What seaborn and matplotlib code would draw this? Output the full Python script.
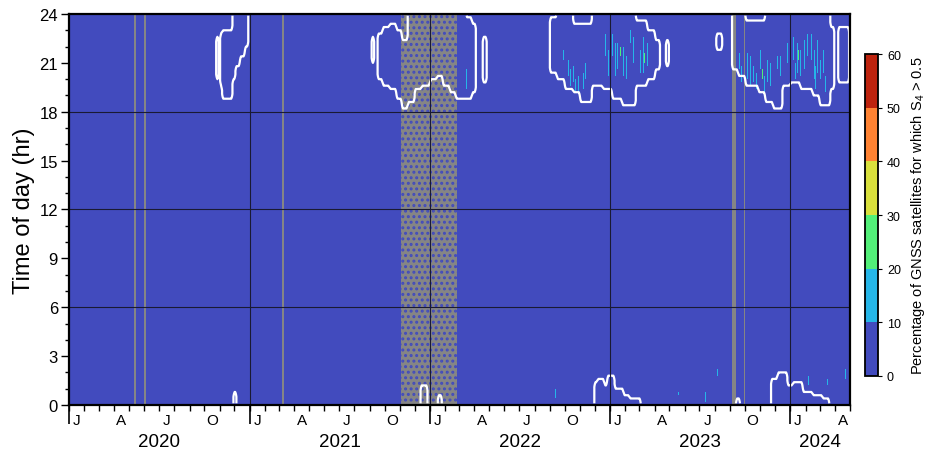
import numpy as np
import pandas as pd
import matplotlib
matplotlib.use("Agg")
import matplotlib.pyplot as plt
import seaborn as sns
from matplotlib.colors import ListedColormap
from matplotlib.patches import Rectangle

plt.rcParams['font.family'] = ['Liberation Sans', 'DejaVu Sans']
plt.rcParams['mathtext.default'] = 'regular'
plt.rcParams['hatch.linewidth'] = 1.4

# ---------------- data ----------------
start_date = "2020-01-01"
end_date = "2024-05-01"          # exclusive
hour_step = 0.2

# evening scintillation envelope: piecewise nodes (lower / upper hour); lo == hi -> no activity
eve_dates = ["2020-01-01",
             "2020-10-25", "2020-10-30", "2020-11-02", "2020-11-06", "2020-11-27", "2020-12-03",
             "2020-12-12", "2020-12-22", "2020-12-29",
             "2021-09-05", "2021-09-10", "2021-09-17", "2021-09-27", "2021-10-11", "2021-10-25",
             "2021-11-05", "2021-11-17", "2021-12-01", "2021-12-15", "2022-01-01", "2022-01-15",
             "2022-01-27", "2022-02-10", "2022-02-22", "2022-03-15", "2022-03-27", "2022-04-04",
             "2022-04-18", "2022-04-26",
             "2022-09-01", "2022-09-15", "2022-10-01", "2022-10-18", "2022-11-01", "2022-11-25",
             "2022-12-17", "2023-01-05", "2023-01-25", "2023-02-22", "2023-03-17", "2023-04-02",
             "2023-04-12", "2023-04-24", "2023-04-30",
             "2023-08-04", "2023-08-16", "2023-09-05", "2023-09-17", "2023-10-02", "2023-10-28",
             "2023-11-11", "2023-11-27", "2023-12-16", "2024-01-01", "2024-01-21", "2024-02-15",
             "2024-02-29", "2024-03-22", "2024-03-30", "2024-04-07", "2024-04-29"]
eve_lo = [24,
          20.1, 24, 19.6, 18.9, 20.0, 20.9, 21.5, 22.0, 24,
          21.0, 24, 20.0, 19.6, 19.4, 18.8, 18.3, 18.6, 19.4, 19.6, 20.0, 20.2,
          19.6, 19.3, 18.8, 18.8, 19.2, 24, 19.9, 24,
          20.4, 20.0, 19.4, 19.2, 18.6, 19.7, 19.4, 18.9, 18.5, 19.7, 20.0, 20.6,
          24, 20.8, 24,
          21.9, 24, 20.7, 20.3, 19.6, 19.3, 18.6, 18.3, 19.7, 19.8, 19.4, 19.0,
          18.5, 19.5, 24, 19.9, 24]
eve_hi = [24,
          22.6, 24, 22.8, 23.0, 24, 24, 24, 24, 24,
          22.6, 24, 22.9, 23.2, 23.4, 23.0, 22.5, 24, 24, 24, 24, 24,
          24, 24, 24, 23.8, 23.5, 24, 22.6, 24,
          23.8, 24, 24, 23.4, 23.4, 24, 24, 24, 24, 23.6, 23.0, 22.4,
          24, 22.4, 24,
          22.9, 24, 24, 24, 23.6, 23.6, 24, 24, 24, 24, 24, 24,
          24, 23.2, 24, 23.2, 24]

# post-midnight envelope: upper hour from 0 (0 -> no activity)
mn_dates = ["2020-01-01", "2020-11-29", "2020-12-05", "2021-12-13", "2021-12-27", "2022-01-17",
            "2022-01-25", "2022-11-30", "2022-12-06", "2022-12-20", "2022-12-26", "2023-01-10",
            "2023-01-28", "2023-02-09", "2023-03-04", "2023-09-13", "2023-09-21", "2023-11-23",
            "2023-12-06", "2023-12-26", "2024-01-06", "2024-01-26", "2024-02-15", "2024-03-06",
            "2024-03-20"]
mn_hi = [0, 0.85, 0, 1.2, 0, 0.7, 0, 1.5, 1.7, 1.3, 1.8, 1.0, 0.7, 0.4, 0, 0.35, 0, 1.6,
         2.0, 1.2, 1.4, 0.8, 0.55, 0.45, 0]

# streaks of higher percentage (date, hour range, value %)
st_dates = ["2022-03-16", "2022-09-11", "2022-09-27", "2022-10-07", "2022-10-12", "2022-10-18",
            "2022-10-22", "2022-10-28", "2022-11-07", "2022-11-12", "2022-12-22", "2022-12-28",
            "2023-01-05", "2023-01-11", "2023-01-15", "2023-01-21", "2023-01-27", "2023-02-02",
            "2023-02-10", "2023-02-16", "2023-03-02", "2023-03-09", "2023-03-10", "2023-03-17",
            "2023-05-19", "2023-07-12", "2023-08-06",
            "2023-09-20", "2023-09-24", "2023-10-06", "2023-10-12", "2023-10-18", "2023-10-24",
            "2023-11-01", "2023-11-05", "2023-11-08", "2023-11-15", "2023-11-20", "2023-12-05",
            "2023-12-12", "2023-12-26", "2024-01-07", "2024-01-10", "2024-01-15", "2024-01-16",
            "2024-01-21", "2024-01-28", "2024-02-03", "2024-02-06", "2024-02-11", "2024-02-17",
            "2024-02-21", "2024-02-25", "2024-03-02", "2024-03-08", "2024-03-12", "2024-03-16",
            "2024-04-21"]
st_lo = [19.5, 0.5, 21.2, 20.2, 19.6, 19.8,
         19.3, 19.2, 19.5, 20.0, 21.5, 20.3,
         21.4, 20.2, 20.6, 21.4, 20.2, 20.0,
         22.3, 21.0, 20.5, 20.4, 21.0, 20.8,
         0.7, 0.3, 1.9,
         20.6, 19.8, 20.0, 19.6, 19.9, 19.5,
         20.6, 20.1, 19.0, 19.9, 19.6, 20.6,
         20.2, 21.0, 21.2, 20.0, 20.4, 21.3,
         20.2, 20.6, 21.5, 1.2, 21.2, 20.0,
         19.5, 20.5, 20.1, 20.4, 19.2, 1.2,
         1.6]
st_hi = [20.6, 1.0, 21.8, 21.2, 20.6, 20.8,
         20.1, 20.2, 20.5, 21.0, 22.8, 21.8,
         22.9, 22.3, 22.2, 22.0, 22.0, 21.5,
         23.1, 22.6, 21.8, 22.6, 21.6, 22.3,
         0.9, 0.8, 2.2,
         21.6, 20.8, 21.7, 21.4, 20.8, 20.5,
         21.9, 20.6, 20.2, 21.2, 21.0, 21.5,
         21.4, 22.3, 22.6, 21.0, 22.3, 21.8,
         21.9, 22.5, 22.8, 1.8, 22.9, 21.9,
         20.8, 22.4, 21.2, 21.8, 20.2, 1.6,
         2.2]
st_val = [12, 12, 12, 13, 12, 14,
          12, 11, 13, 12, 12, 13,
          13, 14, 12, 24, 12, 12,
          12, 13, 12, 14, 23, 11,
          13, 12, 12,
          12, 13, 12, 13, 15, 14,
          12, 24, 12, 12, 13, 11,
          12, 12, 13, 12, 14, 22,
          12, 13, 12, 12, 13, 15,
          13, 12, 11, 12, 11, 12,
          13]

# days without data (grey)
gap_start = ["2020-05-12", "2020-06-01", "2021-03-08", "2023-09-04", "2023-09-29"]
gap_end = ["2020-05-15", "2020-06-04", "2021-03-11", "2023-09-11", "2023-09-30"]
# partially missing period (grey with scattered data)
part_start = "2021-11-03"
part_end = "2022-02-24"

year_list = [2020, 2021, 2022, 2023, 2024]
label_months = [1, 4, 7, 10]
label_letters = ["J", "A", "J", "O"]
cbar_ticks = [0, 10, 20, 30, 40, 50, 60]
band_colors = ["#424BBE", "#25B6E8", "#52EF78", "#D9E03C", "#FF8232", "#BE230E"]
missing_color = "#858585"

# ---------------- build the grid ----------------
t0 = pd.Timestamp(start_date)
days = pd.date_range(t0, pd.Timestamp(end_date) - pd.Timedelta(days=1))
ncol = len(days)
nrow = int(round(24 / hour_step))
hcent = (np.arange(nrow) + 0.5) * hour_step


def col(d):
    return (pd.Timestamp(d) - t0).days


mask = np.zeros((nrow, ncol), bool)
for k, d in enumerate(eve_dates):
    c0 = col(d)
    c1 = col(eve_dates[k + 1]) if k + 1 < len(eve_dates) else ncol
    rows = (hcent >= eve_lo[k]) & (hcent < eve_hi[k])
    mask[np.ix_(rows, np.arange(c0, c1))] = True
for k, d in enumerate(mn_dates):
    c0 = col(d)
    c1 = col(mn_dates[k + 1]) if k + 1 < len(mn_dates) else ncol
    rows = hcent < mn_hi[k]
    mask[np.ix_(rows, np.arange(c0, c1))] = True

vals = np.where(mask, 3.0, 0.0)
for d, lo, hi, v in zip(st_dates, st_lo, st_hi, st_val):
    c = col(d)
    rows = (hcent >= lo) & (hcent < hi)
    vals[np.ix_(rows, np.arange(c, c + 2))] = v

for a, b in zip(gap_start, gap_end):
    vals[:, col(a):col(b) + 1] = np.nan
pa, pb = col(part_start), col(part_end) + 1
vals[:, pa:pb] = np.nan

df = pd.DataFrame(vals, index=np.round(hcent, 2), columns=days)

# lightly rounded outline of the active regions (box average of the mask)
m = mask.astype(float)
mp = np.pad(m, ((1, 1), (2, 2)), mode="edge")
sm = sum(mp[i:i + nrow, j:j + ncol] for i in range(3) for j in range(5)) / 15.0

# ---------------- plot ----------------
fig = plt.figure(figsize=(9.28, 4.52), dpi=100)
ax = fig.add_axes([0.0744, 0.1018, 0.8416, 0.865])
cax = fig.add_axes([0.9325, 0.166, 0.0135, 0.712])
cmap = ListedColormap(band_colors)
sns.heatmap(df, ax=ax, cbar_ax=cax, cmap=cmap, vmin=0, vmax=60,
            xticklabels=False, yticklabels=False, rasterized=True)
ax.set_facecolor(missing_color)
ax.set_xlim(0, ncol)
ax.set_ylim(0, nrow)

# missing-data days drawn solid
for a, b in zip(gap_start, gap_end):
    ax.axvspan(col(a), col(b) + 1, color=missing_color, lw=0, zorder=1.2)

# partially missing period: scattered data points over grey
ax.add_patch(Rectangle((pa, 0), pb - pa, nrow, facecolor="none", edgecolor=band_colors[0],
                       hatch="...", lw=0, zorder=1.5))

# white contour around the active regions
X = np.arange(ncol) + 0.5
Y = np.arange(nrow) + 0.5
ax.contour(X, Y, sm, levels=[0.5], colors="white", linewidths=1.6, zorder=2)

# grid lines
per_hour = 1 / hour_step
for h in [6, 12, 18]:
    ax.axhline(h * per_hour, color="#1a1a33", lw=0.8, zorder=3)
year_starts = [col(f"{y}-01-01") for y in year_list]
for c in year_starts[1:]:
    ax.axvline(c, color="#1a1a33", lw=0.8, zorder=3)

for s in ax.spines.values():
    s.set_visible(True)
    s.set_linewidth(1.6)
    s.set_color("black")
    s.set_zorder(5)

# y axis
ax.set_yticks([h * per_hour for h in range(0, 25, 3)])
ax.set_yticklabels([str(h) for h in range(0, 25, 3)], fontsize=12, rotation=0)
ax.set_yticks([h * per_hour for h in range(0, 25)], minor=True)
ax.tick_params(axis="y", which="major", length=6, width=1, direction="out", left=True, pad=2)
ax.tick_params(axis="y", which="minor", length=3, width=1, direction="out", left=True)
ax.set_ylabel("Time of day (hr)", fontsize=17, labelpad=3)

# x axis: month ticks, mid-month letters
month_starts = [col(d) for d in pd.date_range(t0, pd.Timestamp(end_date), freq="MS")]
ax.set_xticks(month_starts, minor=True)
mid_pos, mid_lab = [], []
for y in year_list:
    for mth, l in zip(label_months, label_letters):
        ms = pd.Timestamp(year=y, month=mth, day=1)
        if ms >= pd.Timestamp(end_date):
            continue
        mid_pos.append(col(ms) + ms.days_in_month / 2)
        mid_lab.append(l)
ax.set_xticks(mid_pos)
ax.set_xticklabels(mid_lab, fontsize=11, rotation=0)
ax.tick_params(axis="x", which="major", length=0, pad=6, bottom=True)
ax.tick_params(axis="x", which="minor", length=4, width=1, direction="out", bottom=True)
ax.set_xlabel("")

sec1 = ax.secondary_xaxis("bottom")
sec1.set_xticks(year_starts)
sec1.set_xticklabels([""] * len(year_starts))
sec1.tick_params(length=14, width=1.2, direction="out")
sec1.spines["bottom"].set_visible(False)

sec2 = ax.secondary_xaxis("bottom")
year_mid = [(year_starts[i] + (year_starts[i + 1] if i + 1 < len(year_starts) else ncol)) / 2
            for i in range(len(year_starts))]
sec2.set_xticks(year_mid)
sec2.set_xticklabels([str(y) for y in year_list], fontsize=13.5)
sec2.tick_params(length=0, pad=20)
sec2.spines["bottom"].set_visible(False)

# colorbar
cb = ax.collections[0].colorbar
cb.set_ticks(cbar_ticks)
cb.set_ticklabels([str(t) for t in cbar_ticks])
cb.ax.tick_params(labelsize=9, length=3, width=0.8)
cb.outline.set_visible(True)
cb.outline.set_linewidth(1.3)
cb.outline.set_edgecolor("black")
cb.set_label("Percentage of GNSS satellites for which S$_4$ > 0.5", fontsize=10.5, labelpad=6)

fig.savefig("out.png", dpi=100)
